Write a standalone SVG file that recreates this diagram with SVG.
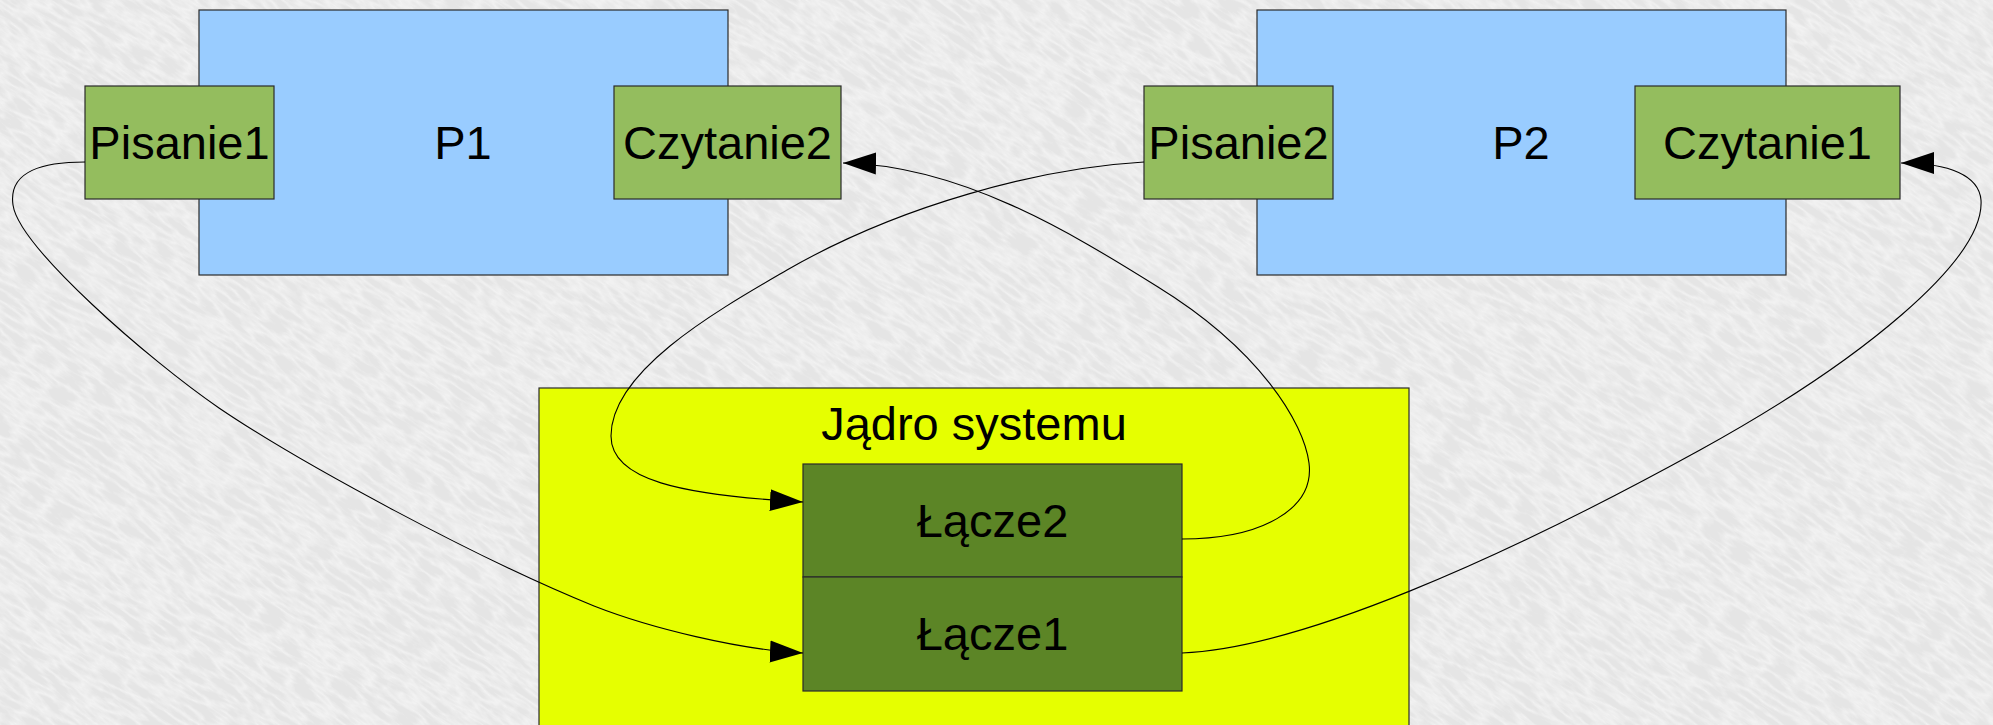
<svg xmlns="http://www.w3.org/2000/svg" width="1993" height="725" viewBox="0 0 1993 725">
<defs>
<style>
.proc{fill:#99ccff;stroke:#2a2a2a;stroke-width:1.2}
.port{fill:#94bd5e;stroke:#2a2a2a;stroke-width:1.2}
.kern{fill:#e6ff00;stroke:#2a2a2a;stroke-width:1.2}
.pipe{fill:#5c8526;stroke:#2a2a2a;stroke-width:1.2}
.lbl{font-family:"Liberation Sans",Arial,sans-serif;font-size:47px;fill:#000;text-anchor:middle}
.conn{fill:none;stroke:#000;stroke-width:1.1;marker-end:url(#arrow)}
</style>
<marker id="arrow" markerUnits="userSpaceOnUse" markerWidth="34" markerHeight="24" viewBox="0 0 34 24" refX="33" refY="12" orient="auto">
<path d="M0,1 L33,12 L0,23 Z" fill="#000"/>
</marker>
<filter id="marble" x="0" y="0" width="100%" height="100%">
<feTurbulence type="turbulence" baseFrequency="0.03 0.12" numOctaves="3" seed="7"/>
<feColorMatrix type="matrix" values="0 0 0 0 1  0 0 0 0 1  0 0 0 0 1  0 0 0 -2.2 1.1"/>
</filter>
</defs>
<g id="background">
<rect x="0" y="0" width="1993" height="725" fill="#e5e5e5"/>
<g transform="rotate(35 996 362)">
<rect x="-600" y="-900" width="3200" height="2500" filter="url(#marble)" opacity="0.5"/>
</g>
</g>
<g id="P1">
<rect class="proc" x="199" y="10" width="529" height="265"/>
<text class="lbl" x="463" y="159">P1</text>
</g>
<g id="P2">
<rect class="proc" x="1257" y="10" width="529" height="265"/>
<text class="lbl" x="1521" y="159">P2</text>
</g>
<g id="Pisanie1">
<rect class="port" x="85" y="86" width="189" height="113"/>
<text class="lbl" x="179.5" y="159">Pisanie1</text>
</g>
<g id="Czytanie2">
<rect class="port" x="614" y="86" width="227" height="113"/>
<text class="lbl" x="727.5" y="159">Czytanie2</text>
</g>
<g id="Pisanie2">
<rect class="port" x="1144" y="86" width="189" height="113"/>
<text class="lbl" x="1238.5" y="159">Pisanie2</text>
</g>
<g id="Czytanie1">
<rect class="port" x="1635" y="86" width="265" height="113"/>
<text class="lbl" x="1767.5" y="159">Czytanie1</text>
</g>
<g id="Jadro">
<rect class="kern" x="539" y="388" width="870" height="345"/>
<text class="lbl" x="974" y="440">Jądro systemu</text>
</g>
<g id="Lacze2">
<rect class="pipe" x="803" y="464" width="379" height="113"/>
<text class="lbl" x="992.5" y="537">Łącze2</text>
</g>
<g id="Lacze1">
<rect class="pipe" x="803" y="577" width="379" height="114"/>
<text class="lbl" x="992.5" y="650">Łącze1</text>
</g>
<g id="connectors">
<path class="conn" d="M85,162 C45,162 8,170 13,205 C19,247 149,360 219,408 C300,463 480,560 594,606 C650,628 740,650 803,653"/>
<path class="conn" d="M1144,162 C1040,168 900,205 787,270 C720,309 611,370 611,436 C611,480 680,495 803,502"/>
<path class="conn" d="M1182,539 C1260,539 1315,510 1309,463 C1304,423 1260,350 1158,287 C1070,232 960,165 843,163"/>
<path class="conn" d="M1182,653 C1300,648 1500,560 1700,450 C1860,362 1985,260 1981,200 C1979,176 1950,163 1901,163"/>
</g>
</svg>
